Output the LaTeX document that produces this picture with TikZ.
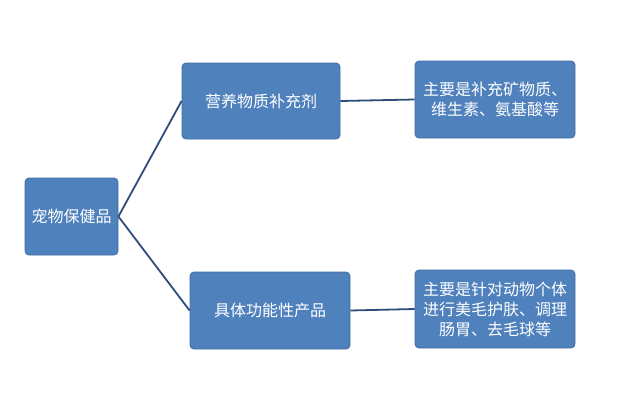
\documentclass[tikz,border=0pt]{standalone}
\usepackage{fontspec}
\newfontfamily\cjk{Noto Sans CJK SC}
\definecolor{boxfill}{HTML}{4F81BD}
\definecolor{boxline}{HTML}{3F6EA6}
\definecolor{linkcol}{HTML}{2E4D7B}
\begin{document}
\begin{tikzpicture}[x=1pt,y=-1pt,
  box/.style={draw=boxline, fill=boxfill, rounded corners=4pt, text=white,
    font=\cjk\fontsize{16}{20}\selectfont, align=center, inner sep=0pt, line width=0.8pt},
  link/.style={draw=linkcol, line width=1.8pt}]
\useasboundingbox (0,0) rectangle (622,407);
\node [box, minimum width=93pt, minimum height=77pt] (pet) at (71.5,216.5) {宠物保健品};
\node [box, minimum width=158pt, minimum height=76pt] (nutri) at (261,101) {营养物质补充剂};
\node [box, minimum width=160pt, minimum height=77pt] (func) at (270,310.5) {具体功能性产品};
\node [box, minimum width=160pt, minimum height=77pt] (nutrinote) at (495,99.5) {主要是补充矿物质、\\维生素、氨基酸等};
\node [box, minimum width=160pt, minimum height=78pt] (funcnote) at (495,309) {主要是针对动物个体\\进行美毛护肤、调理\\肠胃、去毛球等};
\draw [link] (pet.east) -- (nutri.west);
\draw [link] (pet.east) -- (func.west);
\draw [link] (nutri.east) -- (nutrinote.west);
\draw [link] (func.east) -- (funcnote.west);
\end{tikzpicture}
\end{document}
